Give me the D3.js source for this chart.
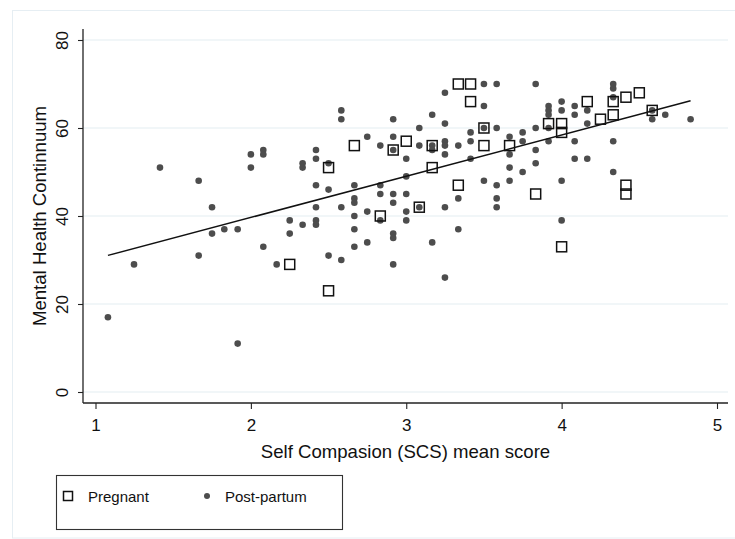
<!DOCTYPE html>
<html>
<head>
<meta charset="utf-8">
<script src="https://cdn.jsdelivr.net/npm/d3@7"></script>
<style>
  html, body { margin: 0; padding: 0; background: #fff; }
  svg { display: block; font-family: "Liberation Sans", Arial, sans-serif; }
</style>
</head>
<body>
<svg id="chart" width="735" height="539"></svg>
<script>
// ---- Data ----
const xTicks = [1, 2, 3, 4, 5];
const yTicks = [0, 20, 40, 60, 80];
const xTitle = "Self Compasion (SCS) mean score";
const yTitle = "Mental Health Continnuum";
const seriesNames = ["Pregnant", "Post-partum"];

const pregnantX = [2.25, 2.5, 2.5, 2.666, 2.833, 2.916, 3.0, 3.084, 3.167, 3.167, 3.335, 3.414, 3.414, 3.335, 3.5, 3.5, 3.665, 3.833, 3.916, 4.0, 4.0, 4.0, 4.165, 4.25, 4.332, 4.332, 4.414, 4.414, 4.414, 4.5, 4.583];
const pregnantY = [29, 51, 23, 56, 40, 55, 57, 42, 56, 51, 70, 70, 66, 47, 60, 56, 56, 45, 61, 61, 59, 33, 66, 62, 66, 63, 67, 47, 45, 68, 64];

const postX = [1.08, 1.248, 1.415, 1.664, 1.664, 1.75, 1.75, 1.829, 1.915, 1.915,
  2.0, 2.0, 2.08, 2.08, 2.08, 2.166, 2.25, 2.25, 2.333, 2.333, 2.333,
  2.419, 2.419, 2.419, 2.419, 2.419, 2.419, 2.5, 2.5, 2.5,
  2.582, 2.582, 2.582, 2.582, 2.666, 2.666, 2.666, 2.666, 2.666, 2.666,
  2.749, 2.749, 2.749, 2.833, 2.833, 2.833, 2.833,
  2.916, 2.916, 2.916, 2.916, 2.916, 2.916, 2.916, 2.916,
  3.0, 3.0, 3.0, 3.0, 3.0, 3.084, 3.084, 3.084, 3.167, 3.167, 3.167, 3.167,
  3.249, 3.249, 3.249, 3.249, 3.249, 3.249, 3.249, 3.335, 3.335, 3.335,
  3.414, 3.414, 3.414, 3.5, 3.5, 3.5, 3.5, 3.582, 3.582, 3.582, 3.582, 3.582,
  3.665, 3.665, 3.665, 3.665, 3.749, 3.749, 3.749, 3.833, 3.833, 3.833, 3.833,
  3.916, 3.916, 3.916, 3.916, 3.916, 4.0, 4.0, 4.0, 4.0,
  4.084, 4.084, 4.084, 4.084, 4.165, 4.165, 4.165,
  4.332, 4.332, 4.332, 4.332, 4.332, 4.583, 4.583, 4.667, 4.83];
const postY = [17, 29, 51, 48, 31, 42, 36, 37, 37, 11,
  54, 51, 55, 54, 33, 29, 39, 36, 38, 52, 51,
  55, 53, 47, 42, 39, 38, 52, 46, 31,
  64, 62, 42, 30, 47, 44, 43, 40, 37, 33,
  58, 41, 34, 56, 47, 45, 39,
  62, 58, 55, 45, 43, 36, 35, 29,
  53, 49, 45, 41, 39, 60, 56, 42, 63, 56, 55, 34,
  68, 61, 57, 56, 54, 42, 26, 56, 44, 37,
  59, 57, 53, 70, 65, 60, 48, 70, 60, 47, 44, 42,
  58, 54, 51, 48, 59, 57, 50, 70, 60, 55, 52,
  65, 64, 63, 60, 57, 66, 64, 48, 39,
  65, 63, 57, 53, 64, 61, 53,
  70, 69, 67, 57, 50, 64, 62, 63, 62];

// fitted line endpoints
const fitX = [1.08, 4.83];
const fitY = [31.05, 66.2];

// ---- Drawing ----
const svg = d3.select("#chart");
const x = d3.scaleLinear().domain([1, 5]).range([95.5, 717]);
const y = d3.scaleLinear().domain([0, 80]).range([392, 40]);
const plotLeft = 83, plotRight = 728, plotBottom = 403, axisTop = 29;

// outer frame
svg.append("rect").attr("x", 12.5).attr("y", 10.5).attr("width", 740).attr("height", 527.5)
  .attr("fill", "none").attr("stroke", "#e6eef3").attr("stroke-width", 1);

// gridlines
svg.append("g").selectAll("line").data(yTicks).join("line")
  .attr("x1", plotLeft).attr("x2", plotRight)
  .attr("y1", d => y(d)).attr("y2", d => y(d))
  .attr("stroke", "#e3edf1").attr("stroke-width", 1.2);

// y axis
const yAxis = svg.append("g").attr("transform", `translate(${plotLeft},0)`)
  .call(d3.axisLeft(y).tickValues(yTicks).tickSize(5).tickPadding(6));
yAxis.select(".domain").remove();
yAxis.append("line").attr("x1", 0).attr("x2", 0).attr("y1", axisTop).attr("y2", plotBottom)
  .attr("stroke", "#222").attr("stroke-width", 1.3);
yAxis.selectAll(".tick line").attr("stroke", "#222").attr("stroke-width", 1.1);
yAxis.selectAll(".tick text")
  .attr("font-size", 17).attr("fill", "#111")
  .attr("text-anchor", "middle")
  .attr("x", 0).attr("dy", 0)
  .attr("transform", d => `translate(-21,0) rotate(-90) translate(0,6)`);

// x axis
const xAxis = svg.append("g").attr("transform", `translate(0,${plotBottom})`)
  .call(d3.axisBottom(x).tickValues(xTicks).tickSize(6).tickPadding(10).tickFormat(d3.format("d")));
xAxis.select(".domain").remove();
xAxis.append("line").attr("x1", plotLeft).attr("x2", plotRight).attr("y1", 0).attr("y2", 0)
  .attr("stroke", "#222").attr("stroke-width", 1.3);
xAxis.selectAll(".tick line").attr("stroke", "#222").attr("stroke-width", 1.1);
xAxis.selectAll(".tick text").attr("font-size", 17).attr("fill", "#111");

// axis titles
svg.append("text").attr("x", (plotLeft + plotRight) / 2).attr("y", 458)
  .attr("text-anchor", "middle").attr("font-size", 18.6).attr("fill", "#111").text(xTitle);
svg.append("text").attr("transform", `translate(46,${(y(0) + y(80)) / 2}) rotate(-90)`)
  .attr("text-anchor", "middle").attr("font-size", 18.6).attr("fill", "#111").text(yTitle);

// points
const post = postX.map((v, i) => ({ x: v, y: postY[i] }));
const preg = pregnantX.map((v, i) => ({ x: v, y: pregnantY[i] }));
const dotColor = "#4d4d4d";
const sq = 10;

svg.append("g").selectAll("circle").data(post).join("circle")
  .attr("cx", d => x(d.x)).attr("cy", d => y(d.y)).attr("r", 3.3)
  .attr("fill", dotColor);

svg.append("g").selectAll("rect").data(preg).join("rect")
  .attr("x", d => x(d.x) - sq / 2).attr("y", d => y(d.y) - sq / 2)
  .attr("width", sq).attr("height", sq)
  .attr("fill", "none").attr("stroke", "#111").attr("stroke-width", 1.5);

// fitted line
svg.append("line")
  .attr("x1", x(fitX[0])).attr("y1", y(fitY[0]))
  .attr("x2", x(fitX[1])).attr("y2", y(fitY[1]))
  .attr("stroke", "#111").attr("stroke-width", 1.5);

// legend
const lg = svg.append("g");
lg.append("rect").attr("x", 56.5).attr("y", 475.5).attr("width", 286).attr("height", 54)
  .attr("fill", "#fff").attr("stroke", "#333").attr("stroke-width", 1.1);
lg.append("rect").attr("x", 68 - 4.5).attr("y", 496 - 4.5).attr("width", 9).attr("height", 9)
  .attr("fill", "none").attr("stroke", "#111").attr("stroke-width", 1.5);
lg.append("text").attr("x", 88).attr("y", 502).attr("font-size", 15).attr("fill", "#111").text(seriesNames[0]);
lg.append("circle").attr("cx", 207).attr("cy", 496).attr("r", 3).attr("fill", dotColor);
lg.append("text").attr("x", 225).attr("y", 502).attr("font-size", 15).attr("fill", "#111").text(seriesNames[1]);
</script>
</body>
</html>
